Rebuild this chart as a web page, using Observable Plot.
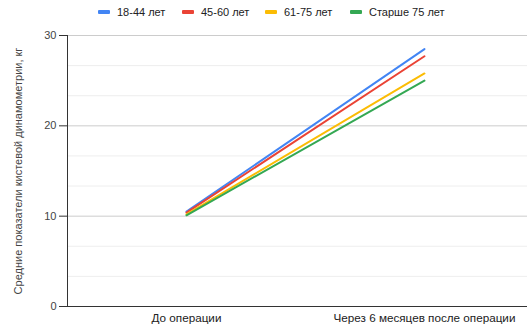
<!DOCTYPE html>
<html><head><meta charset="utf-8">
<script src="https://cdn.jsdelivr.net/npm/d3@7"></script>
<script src="https://cdn.jsdelivr.net/npm/@observablehq/plot@0.6"></script>
<style>
body{margin:0;background:#fff;font-family:"Liberation Sans",Arial,sans-serif;}
#legend{position:relative;height:26px;font-size:11px;color:#222;}
.item{position:absolute;top:6px;display:flex;align-items:center;white-space:nowrap;}
.sw{width:12px;height:4px;border-radius:1px;margin-right:7px;}
</style></head>
<body>
<div id="legend"></div>
<div id="chart"></div>
<script>
const categories = ["До операции", "Через 6 месяцев после операции"];
const series = ["18-44 лет", "45-60 лет", "61-75 лет", "Старше 75 лет"];
const colors = ["#4285f4", "#ea4335", "#fbbc04", "#34a853"];
const before = [10.5, 10.4, 10.2, 10.1];
const after = [28.5, 27.7, 25.8, 25.0];
const yTicks = [0, 10, 20, 30];
const yTitle = "Средние показатели кистевой динамометрии, кг";

const legendX = [98, 182, 265, 350];
const legend = document.getElementById("legend");
series.forEach((s, i) => {
  const d = document.createElement("div");
  d.className = "item";
  d.style.left = legendX[i] + "px";
  d.innerHTML = `<span class="sw" style="background:${colors[i]}"></span><span>${s}</span>`;
  legend.appendChild(d);
});

const data = [];
series.forEach((s, i) => {
  data.push({x: 0, y: before[i], s});
  data.push({x: 1, y: after[i], s});
});
const minor = [];
for (let k = 0; k < 3; k++) { minor.push(k*10 + 10/3, k*10 + 20/3); }

const chart = Plot.plot({
  width: 527, height: 306,
  marginLeft: 67, marginRight: 0, marginTop: 9, marginBottom: 26,
  style: {fontFamily: '"Liberation Sans",Arial,sans-serif', fontSize: "11px", color: "#444"},
  x: {type: "linear", domain: [-0.5, 1.433], axis: null},
  y: {domain: [0, 30], axis: null},
  color: {domain: series, range: colors},
  marks: [
    Plot.ruleY(minor, {stroke: "#eeeeee"}),
    Plot.ruleY([10, 20, 30], {stroke: "#cccccc"}),
    Plot.axisY({ticks: yTicks, tickSize: 8, tickPadding: 3, label: yTitle, labelAnchor: "center", labelArrow: "none", labelOffset: 53, fill: "#444", stroke: "#333"}),
    Plot.ruleX([-0.5], {stroke: "#333"}),
    Plot.ruleY([0], {stroke: "#333"}),
    Plot.line(data, {x: "x", y: "y", z: "s", stroke: "s", strokeWidth: 2}),
    Plot.axisX({ticks: [0, 1], tickFormat: i => categories[i], tickSize: 0, tickPadding: 7, label: null, fill: "#222", fontSize: 11.7})
  ]
});
document.getElementById("chart").appendChild(chart);
</script>
</body></html>
